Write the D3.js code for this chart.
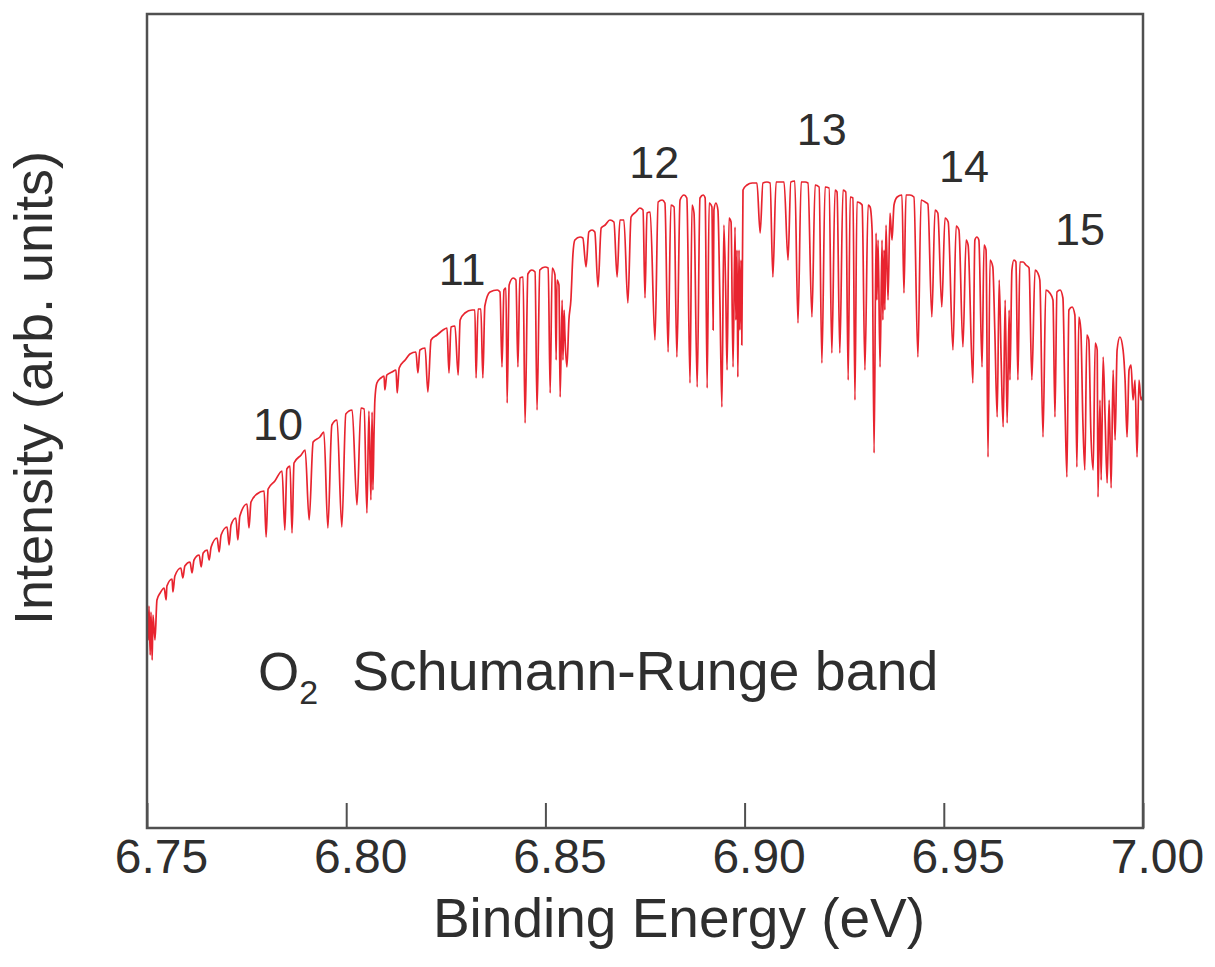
<!DOCTYPE html>
<html>
<head>
  <meta charset="UTF-8">
  <title>O2 Schumann-Runge band</title>
  <script src="https://cdn.jsdelivr.net/npm/d3@7"></script>
  <style>
    body { margin: 0; background: #fff; }
    svg { display: block; }
    text { font-family: "Liberation Sans", Arial, Helvetica, sans-serif; fill: #2e2e2e; }
    .spec { fill: none; stroke: #e8242f; stroke-width: 1.7; stroke-linejoin: round; }
    .frame { fill: none; stroke: #505050; stroke-width: 2.5; }
    .tick line { stroke: #505050; stroke-width: 2; }
  </style>
</head>
<body>
<svg id="chart" width="1215" height="967"></svg>
<script>
// spectrum, [binding energy (eV), intensity (arb.)]
// split by vibrational band (v' = 10 ... 15)
var band10 = [
  [6.7500,224],[6.7503,188],[6.7505,222],[6.7508,173],[6.7510,216],[6.7513,168],[6.7515,213],
  [6.7520,188],[6.7525,228],[6.7533,235],[6.7543,240],[6.7548,228],[6.7550,242],[6.7563,249],
  [6.7565,236],[6.7570,252],[6.7585,260],[6.7590,250],[6.7595,262],[6.7608,266],[6.7613,255],
  [6.7618,268],[6.7631,273],[6.7636,261],[6.7641,275],[6.7651,278],[6.7656,268],[6.7661,281],
  [6.7676,290],[6.7681,276],[6.7686,293],[6.7701,301],[6.7706,283],[6.7711,303],[6.7723,310],
  [6.7728,288],[6.7733,312],[6.7751,324],[6.7756,300],[6.7761,326],[6.7776,334],[6.7794,337],
  [6.7799,291],[6.7804,339],[6.7821,347],[6.7839,357],[6.7846,298],[6.7851,359],[6.7859,362],
  [6.7864,295],[6.7869,365],[6.7887,373],[6.7897,378],[6.7907,308],[6.7917,386],[6.7934,391],
  [6.7944,396],[6.7954,300],[6.7964,403],[6.7977,408],[6.7989,301],[6.7999,414],[6.8015,418],
  [6.8027,323],[6.8037,420],[6.8045,419],[6.8052,315],[6.8057,417],[6.8062,328],[6.8065,416],
  [6.8067,338],[6.8070,398],[6.8072,428],[6.8077,445]
];
var band11 = [
  [6.8087,450],[6.8095,452],[6.8097,438],[6.8102,453],[6.8115,456],[6.8125,458],[6.8128,435],
  [6.8133,460],[6.8148,468],[6.8160,474],[6.8175,476],[6.8180,455],[6.8185,478],[6.8198,480],
  [6.8205,436],[6.8213,488],[6.8228,493],[6.8243,498],[6.8253,500],[6.8258,455],[6.8263,501],
  [6.8273,502],[6.8281,453],[6.8286,508],[6.8298,515],[6.8316,518],[6.8323,518],[6.8326,450],
  [6.8331,519],[6.8338,519],[6.8343,450],[6.8348,522],[6.8361,536],[6.8379,538],[6.8386,536],
  [6.8391,461],[6.8396,538],[6.8401,540],[6.8404,425],[6.8409,543],[6.8419,550],[6.8426,548],
  [6.8431,461],[6.8436,550],[6.8444,551],[6.8449,405],[6.8456,554],[6.8466,558],[6.8474,556],
  [6.8479,418],[6.8486,558],[6.8499,561],[6.8507,560],[6.8512,435],[6.8517,560],[6.8524,553],
  [6.8527,468],[6.8529,548],[6.8534,543],[6.8537,431],[6.8542,528],[6.8544,468],[6.8547,518],
  [6.8549,493],[6.8554,461],[6.8559,508],[6.8564,528],[6.8569,573],[6.8574,588]
];
var band12 = [
  [6.8587,591],[6.8594,590],[6.8602,561],[6.8609,596],[6.8617,598],[6.8624,596],[6.8632,541],
  [6.8640,600],[6.8650,603],[6.8662,608],[6.8672,606],[6.8680,551],[6.8687,608],[6.8697,608],
  [6.8707,525],[6.8715,611],[6.8727,616],[6.8737,620],[6.8745,618],[6.8750,530],[6.8755,615],
  [6.8763,616],[6.8775,488],[6.8783,626],[6.8793,628],[6.8800,625],[6.8808,476],[6.8815,623],
  [6.8823,621],[6.8830,471],[6.8838,628],[6.8848,633],[6.8855,630],[6.8863,445],[6.8868,623],
  [6.8873,615],[6.8881,441],[6.8888,630],[6.8896,633],[6.8901,630],[6.8906,440],[6.8911,625],
  [6.8918,621],[6.8921,498],[6.8923,618],[6.8928,625],[6.8933,618],[6.8938,528],[6.8943,421],
  [6.8948,603],[6.8953,528],[6.8956,458],[6.8961,610],[6.8966,606],[6.8971,461],[6.8976,601],
  [6.8978,508],[6.8981,578],[6.8983,451],[6.8986,578],[6.8988,498],[6.8991,568],[6.8993,483],
  [6.8996,638],[6.9006,643]
];
var band13 = [
  [6.9019,645],[6.9031,645],[6.9039,595],[6.9046,645],[6.9056,646],[6.9064,645],[6.9071,551],
  [6.9079,646],[6.9089,646],[6.9099,646],[6.9109,568],[6.9116,646],[6.9126,647],[6.9134,505],
  [6.9142,646],[6.9152,646],[6.9159,645],[6.9169,511],[6.9177,643],[6.9187,641],[6.9194,465],
  [6.9202,641],[6.9212,640],[6.9219,475],[6.9227,638],[6.9232,636],[6.9239,475],[6.9247,638],
  [6.9254,636],[6.9260,448],[6.9265,631],[6.9272,630],[6.9277,428],[6.9282,626],[6.9290,625],
  [6.9295,623],[6.9302,458],[6.9310,623],[6.9315,621],[6.9320,598],[6.9325,375],[6.9330,595],
  [6.9332,528],[6.9335,588],[6.9340,461],[6.9345,588],[6.9347,508],[6.9350,578],[6.9352,518],
  [6.9355,603],[6.9360,528],[6.9365,615],[6.9370,588],[6.9375,623],[6.9383,631]
];
var band14 = [
  [6.9395,633],[6.9400,535],[6.9405,633],[6.9415,633],[6.9425,631],[6.9435,471],[6.9443,628],
  [6.9453,626],[6.9460,624],[6.9470,511],[6.9478,618],[6.9485,615],[6.9495,521],[6.9503,610],
  [6.9511,606],[6.9523,478],[6.9531,602],[6.9538,598],[6.9548,481],[6.9556,588],[6.9561,583],
  [6.9573,445],[6.9578,588],[6.9583,591],[6.9588,588],[6.9596,461],[6.9601,583],[6.9606,578],
  [6.9611,371],[6.9616,568],[6.9623,561],[6.9628,498],[6.9634,411],[6.9639,548],[6.9644,468],
  [6.9649,401],[6.9654,528],[6.9659,405],[6.9664,518],[6.9666,448],[6.9671,558],[6.9676,568]
];
var band15 = [
  [6.9681,566],[6.9686,448],[6.9691,566],[6.9699,566],[6.9706,563],[6.9714,560],[6.9721,448],
  [6.9729,558],[6.9736,555],[6.9741,548],[6.9749,391],[6.9756,538],[6.9766,535],[6.9774,528],
  [6.9779,411],[6.9784,536],[6.9792,538],[6.9799,530],[6.9804,428],[6.9809,351],[6.9814,518],
  [6.9822,521],[6.9829,513],[6.9834,361],[6.9839,511],[6.9844,498],[6.9849,408],[6.9854,358],
  [6.9859,493],[6.9864,488],[6.9869,398],[6.9875,358],[6.9880,485],[6.9885,478],[6.9887,331],
  [6.9892,428],[6.9895,348],[6.9900,471],[6.9905,408],[6.9910,345],[6.9915,428],[6.9920,340],
  [6.9925,458],[6.9930,388],[6.9935,478],[6.9942,491],[6.9950,478],[6.9955,448],[6.9960,391],
  [6.9965,458],[6.9970,463],[6.9975,428],[6.9980,448],[6.9985,371],[6.9990,448],[6.9995,428],
  [7.0000,433]
];

// band labels (v') and where they sit on the plot
var bandNames = ["10", "11", "12", "13", "14", "15"];
var bandLabelE = [6.7829, 6.8291, 6.8773, 6.9194, 6.9551, 6.9842];
var bandLabelI = [388, 543, 650, 683, 646, 583];

var xTicks = [6.75, 6.80, 6.85, 6.90, 6.95, 7.00];

var W = 1215, H = 967;
var m = {top: 14, right: 72, bottom: 139, left: 147};
var w = W - m.left - m.right, h = H - m.top - m.bottom;

var svg = d3.select("#chart");
var g = svg.append("g").attr("transform", "translate(" + m.left + "," + m.top + ")");

var x = d3.scaleLinear().domain([6.75, 7.00]).range([0, w]);
var y = d3.scaleLinear().domain([0, 814]).range([h, 0]);

var spectrum = [].concat(band10, band11, band12, band13, band14, band15);

var line = d3.line()
  .curve(d3.curveMonotoneX)
  .x(function(d) { return x(d[0]); })
  .y(function(d) { return y(d[1]); });

g.append("path").datum(spectrum).attr("class", "spec").attr("d", line);

// x axis, ticks pointing inwards
var xAxis = d3.axisBottom(x).tickValues(xTicks).tickSize(-25).tickPadding(11)
  .tickFormat(d3.format(".2f"));
var ax = g.append("g").attr("transform", "translate(0," + h + ")").call(xAxis);
ax.select(".domain").remove();
ax.selectAll("text").attr("dx", 14).style("font-size", "48px").style("fill", "#2e2e2e");

g.append("rect").attr("class", "frame").attr("width", w).attr("height", h);

// band labels
g.selectAll(".blabel").data(bandNames).enter().append("text")
  .attr("class", "blabel")
  .attr("x", function(d, i) { return x(bandLabelE[i]); })
  .attr("y", function(d, i) { return y(bandLabelI[i]); })
  .attr("text-anchor", "middle")
  .style("font-size", "45px")
  .text(function(d) { return d; });

// annotation
var note = g.append("text").attr("x", 111).attr("y", 676).style("font-size", "53px");
note.append("tspan").text("O");
note.append("tspan").attr("dy", 14).style("font-size", "34px").text("2");
note.append("tspan").attr("x", 205).attr("dy", -14).style("font-size", "55.5px").text("Schumann-Runge band");

// axis titles
svg.append("text")
  .attr("x", m.left + w / 2 + 34).attr("y", 937)
  .attr("text-anchor", "middle").style("font-size", "55px")
  .text("Binding Energy (eV)");

svg.append("text")
  .attr("transform", "translate(52," + 388 + ") rotate(-90)")
  .attr("text-anchor", "middle").style("font-size", "54px")
  .text("Intensity (arb. units)");
</script>
</body>
</html>
